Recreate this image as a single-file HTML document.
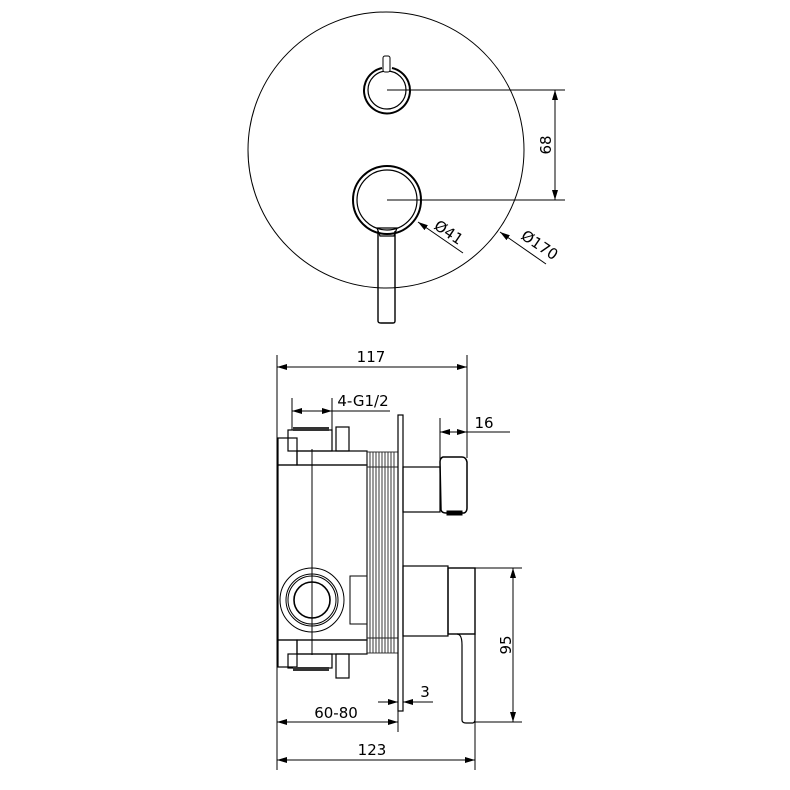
<!DOCTYPE html>
<html><head><style>body{margin:0;background:#fff}svg{display:block}text{font-family:"DejaVu Sans","Liberation Sans",sans-serif;font-size:15px;fill:#000}</style></head><body>
<svg width="790" height="790" viewBox="0 0 790 790" xmlns="http://www.w3.org/2000/svg">
<defs><marker id="a" viewBox="0 0 10 6" refX="10" refY="3" markerWidth="10" markerHeight="6" orient="auto-start-reverse" markerUnits="userSpaceOnUse"><path d="M0,0L10,3L0,6z" fill="#000"/></marker></defs>
<g fill="none" stroke="#000" stroke-width="1">
<!-- top view -->
<circle cx="386" cy="150" r="138"/>
<path d="M382,68 A23,23 0 1 0 392,68" stroke-width="2"/>
<circle cx="387" cy="90" r="19" stroke-width="1.2"/>
<rect x="383" y="56" width="7" height="16" rx="2" fill="#fff"/>
<circle cx="387" cy="200" r="34" stroke-width="2"/>
<circle cx="387" cy="200" r="30" stroke-width="1.2"/>
<path d="M378,231 L378,321 Q378,323 381,323 L393,323 Q395,323 395,321 L395,231" stroke-width="1.4"/>
<path d="M377,228 L397,228 L394,236 L380,236 z" stroke-width="1.2"/>
<line x1="387" y1="90" x2="565" y2="90"/>
<line x1="387" y1="200" x2="565" y2="200"/>
<line x1="555" y1="90" x2="555" y2="200" marker-start="url(#a)" marker-end="url(#a)"/>
<line x1="463" y1="253" x2="418" y2="222" marker-end="url(#a)"/>
<line x1="546" y1="264" x2="500" y2="232" marker-end="url(#a)"/>
<!-- side view box -->
<g stroke-width="1.2">
<rect x="278" y="465" width="89" height="175"/>
<rect x="297" y="451" width="70" height="14"/>
<rect x="297" y="640" width="70" height="14"/>
<rect x="278" y="438" width="19" height="27"/>
<rect x="278" y="640" width="19" height="27"/>
<rect x="288" y="430" width="44" height="21"/>
<rect x="288" y="654" width="44" height="14"/>
<rect x="336" y="427" width="13" height="24"/>
<rect x="336" y="654" width="13" height="24"/>
</g>
<rect x="293" y="427" width="36" height="4" fill="#333" stroke="none"/>
<rect x="293" y="667" width="36" height="4" fill="#333" stroke="none"/>
<line x1="312" y1="449" x2="312" y2="655"/>
<circle cx="312" cy="600" r="32"/><circle cx="312" cy="600" r="26"/><circle cx="312" cy="600" r="24"/><circle cx="312" cy="600" r="18" stroke-width="1.6"/>
<rect x="350" y="576" width="17" height="48"/>
<g stroke="#222" stroke-width="0.9">
<rect x="367" y="452" width="31" height="201"/>
<path d="M370,452V653M373,452V653M376,452V653M379,452V653M382,452V653M385,452V653M388,452V653M391,452V653M394,452V653"/>
<path d="M367,467H398M367,638H398"/>
</g>
<rect x="398" y="415" width="5" height="296" stroke-width="1.2"/>
<!-- right parts -->
<rect x="403" y="467" width="37" height="45" stroke-width="1.2"/>
<path d="M440,462 L441,510 Q442,513 446,513 L464,513 Q467,512 467,508 L467,462 Q466,457 462,457 L443,457 Q440,458 440,462z" stroke-width="1.5"/>
<rect x="447" y="511" width="15" height="4" fill="#000"/>
<rect x="403" y="566" width="45" height="70" stroke-width="1.2"/>
<rect x="448" y="568" width="27" height="66" stroke-width="1.4"/>
<path d="M457,634 Q462,634 462,645 L462,720 Q462,723 466,723 L473,723 Q475,722 475,720 L475,634" stroke-width="1.2"/>
<!-- dims -->
<line x1="277" y1="355" x2="277" y2="770"/>
<line x1="467" y1="355" x2="467" y2="458"/>
<line x1="277" y1="367" x2="467" y2="367" marker-start="url(#a)" marker-end="url(#a)"/>
<line x1="475" y1="635" x2="475" y2="770"/>
<line x1="277" y1="760" x2="475" y2="760" marker-start="url(#a)" marker-end="url(#a)"/>
<line x1="398" y1="705" x2="398" y2="732"/>
<line x1="277" y1="722" x2="398" y2="722" marker-start="url(#a)" marker-end="url(#a)"/>
<line x1="378" y1="702" x2="398" y2="702" marker-end="url(#a)"/>
<line x1="433" y1="702" x2="403" y2="702" marker-end="url(#a)"/>
<line x1="440" y1="418" x2="440" y2="460"/>
<line x1="440" y1="432" x2="467" y2="432" marker-start="url(#a)" marker-end="url(#a)"/>
<line x1="467" y1="432" x2="510" y2="432"/>
<line x1="292" y1="398" x2="292" y2="430"/>
<line x1="332" y1="398" x2="332" y2="430"/>
<line x1="292" y1="411" x2="332" y2="411" marker-start="url(#a)" marker-end="url(#a)"/>
<line x1="332" y1="411" x2="390" y2="411"/>
<line x1="475" y1="568" x2="522" y2="568"/>
<line x1="475" y1="722" x2="522" y2="722"/>
<line x1="513" y1="568" x2="513" y2="722" marker-start="url(#a)" marker-end="url(#a)"/>
</g>
<text x="371" y="362" text-anchor="middle">117</text>
<text x="372" y="755" text-anchor="middle">123</text>
<text x="336" y="718" text-anchor="middle">60-80</text>
<text x="425" y="697" text-anchor="middle">3</text>
<text x="484" y="428" text-anchor="middle">16</text>
<text x="363" y="406" text-anchor="middle">4-G1/2</text>
<text transform="translate(511,645) rotate(-90)" text-anchor="middle">95</text>
<text transform="translate(551,145) rotate(-90)" text-anchor="middle">68</text>
<text transform="translate(433,228) rotate(34)">Ø41</text>
<text transform="translate(520,238) rotate(34)">Ø170</text>
</svg>
</body></html>
